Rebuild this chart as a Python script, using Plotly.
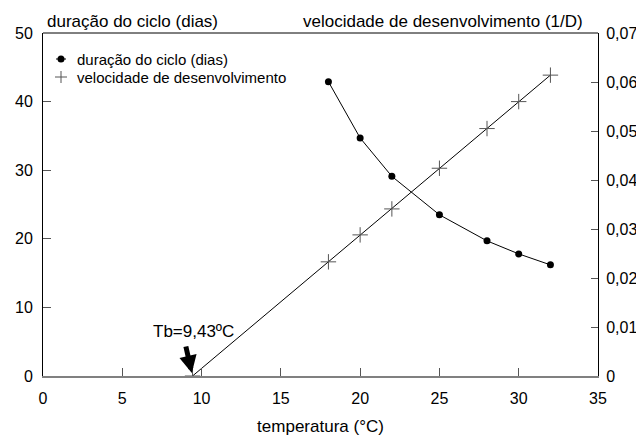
import plotly.graph_objects as go

temperatura = [18, 20, 22, 25, 28, 30, 32]
duracao = [42.9, 34.7, 29.1, 23.5, 19.7, 17.8, 16.2]
temp_vel = [9.43, 18, 20, 22, 25, 28, 30, 32]
velocidade = [0.0, 0.0233, 0.0288, 0.0341, 0.0424, 0.0505, 0.0560, 0.0614]
x_ticks = [0, 5, 10, 15, 20, 25, 30, 35]
y_ticks = [0, 10, 20, 30, 40, 50]
y2_ticks = [0, 0.01, 0.02, 0.03, 0.04, 0.05, 0.06, 0.07]
tb = 9.43
legend_names = ["duração do ciclo (dias)", "velocidade de desenvolvimento"]

FONT = "Liberation Sans, Arial, sans-serif"

# figure geometry (page has an 8px body margin)
W, H = 636, 428
ML, MT, PW, PH = 35, 25, 555, 343
MR, MB = W - ML - PW, H - MT - PH


def px(xp):  # figure pixel -> paper x
    return (xp - ML) / PW


def py(yp):  # figure pixel -> paper y
    return 1 - (yp - MT) / PH


fig = go.Figure()
fig.add_trace(go.Scatter(
    x=temperatura, y=duracao, mode="lines+markers",
    name=legend_names[0], showlegend=False,
    line=dict(color="black", width=1),
    marker=dict(symbol="circle", size=7, color="black"),
))
fig.add_trace(go.Scatter(
    x=temp_vel, y=velocidade, mode="lines+markers", yaxis="y2",
    name=legend_names[1], showlegend=False,
    line=dict(color="black", width=1),
    marker=dict(symbol="cross-thin", size=11, line=dict(color="#555", width=1)),
))

fig.update_layout(
    width=W, height=H,
    margin=dict(l=ML, r=MR, t=MT, b=MB, autoexpand=False),
    paper_bgcolor="white", plot_bgcolor="white",
    separators=", ",
    font=dict(family=FONT, size=16, color="black"),
    showlegend=False,
    xaxis=dict(range=[0, 35], tickvals=x_ticks, ticks="inside", ticklen=8,
               tickcolor="#555", showgrid=False, zeroline=False,
               showline=True, linecolor="#808080", linewidth=2,
               ticklabelstandoff=7, automargin=False,
               title=dict(text="temperatura (°C)", standoff=14, font=dict(size=17))),
    yaxis=dict(range=[0, 50], tickvals=y_ticks, ticks="inside", ticklen=8,
               tickcolor="#555", showgrid=False, zeroline=False,
               showline=True, linecolor="black", linewidth=1,
               ticklabelstandoff=6, automargin=False),
    yaxis2=dict(range=[0, 0.07], tickvals=y2_ticks, overlaying="y", side="right",
                ticks="inside", ticklen=7, tickcolor="#555", showgrid=False,
                zeroline=False, showline=True, linecolor="black", linewidth=1,
                ticklabelstandoff=4, automargin=False),
)

# top border
fig.add_shape(type="line", xref="paper", yref="paper", x0=0, x1=1, y0=1, y1=1,
              line=dict(color="black", width=1))

# custom compact legend
row_y = [51, 69]
sym_x = 53
fig.add_shape(type="line", xref="paper", yref="paper",
              x0=px(sym_x - 5), x1=px(sym_x + 5), y0=py(row_y[0]), y1=py(row_y[0]),
              line=dict(color="black", width=1))
fig.add_shape(type="circle", xref="paper", yref="paper",
              xsizemode="pixel", ysizemode="pixel",
              xanchor=px(sym_x), yanchor=py(row_y[0]),
              x0=-3.5, x1=3.5, y0=-3.5, y1=3.5,
              fillcolor="black", line=dict(color="black", width=0))
fig.add_shape(type="line", xref="paper", yref="paper",
              x0=px(sym_x - 6), x1=px(sym_x + 6), y0=py(row_y[1]), y1=py(row_y[1]),
              line=dict(color="#555", width=1))
fig.add_shape(type="line", xref="paper", yref="paper",
              x0=px(sym_x), x1=px(sym_x), y0=py(row_y[1] - 6), y1=py(row_y[1] + 6),
              line=dict(color="#555", width=1))
for name, ry in zip(legend_names, row_y):
    fig.add_annotation(xref="paper", yref="paper", x=px(67), y=py(ry),
                       xanchor="left", yanchor="middle", showarrow=False,
                       text=name, font=dict(size=15, family=FONT))

# axis titles on top
fig.add_annotation(xref="paper", yref="paper", x=px(37), y=1.0, yshift=12,
                   xanchor="left", yanchor="middle", showarrow=False,
                   text="duração do ciclo (dias)", font=dict(size=17, family=FONT))
fig.add_annotation(xref="paper", yref="paper", x=px(577), y=1.0, yshift=12,
                   xanchor="right", yanchor="middle", showarrow=False,
                   text="velocidade de desenvolvimento (1/D)", font=dict(size=17, family=FONT))

# Tb label and arrow
fig.add_annotation(x=tb, y=0, xref="x", yref="y", text="", showarrow=True,
                   ax=-7, ay=-31, arrowhead=2, arrowsize=0.7, arrowwidth=5,
                   arrowcolor="black", standoff=3)
fig.add_annotation(x=tb, y=0, xref="x", yref="y", text="Tb=9,43ºC",
                   showarrow=False, xshift=1, yshift=45, font=dict(size=17, family=FONT))

fig.write_html("out.html")
